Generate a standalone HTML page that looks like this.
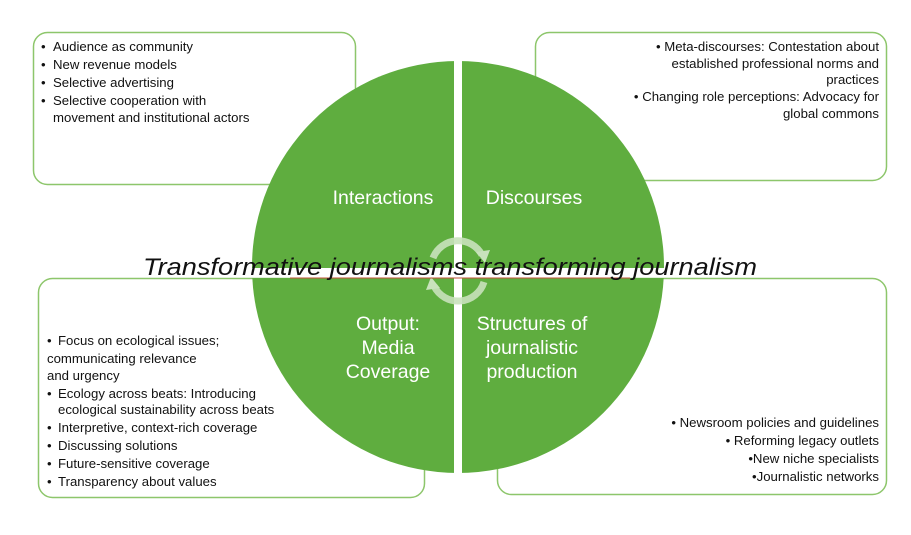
<!DOCTYPE html>
<html><head><meta charset="utf-8"><style>
html,body{margin:0;padding:0;background:#fff;width:911px;height:535px;overflow:hidden}
svg text{font-family:"Liberation Sans",sans-serif}
.t{font-size:13.2px;fill:#111}
.w{font-size:19.5px;fill:#fff}
</style></head><body>
<svg width="911" height="535" viewBox="0 0 911 535" xmlns="http://www.w3.org/2000/svg">
<g fill="#fff" stroke="#8dc66b" stroke-width="1.5">
<rect x="33.5" y="32.5" width="322" height="152" rx="14"/>
<rect x="535.5" y="32.5" width="351" height="148" rx="14"/>
<rect x="38.5" y="278.5" width="386" height="219" rx="14"/>
<rect x="497.5" y="278.5" width="389" height="216" rx="14"/>
</g>
<defs><clipPath id="c"><circle cx="458" cy="267" r="206"/></clipPath></defs>
<g clip-path="url(#c)" fill="#5fad3f">
<rect x="250" y="55" width="204" height="213"/>
<rect x="462" y="55" width="204" height="213"/>
<rect x="250" y="278" width="204" height="205"/>
<rect x="462" y="278" width="204" height="205"/>
</g>
<g fill="none" stroke="#c9e2bc" stroke-width="7" opacity="0.9">
<path d="M433 258 A27 27 0 0 1 482 255"/>
<path d="M484 282 A27 27 0 0 1 434 286"/>
</g>
<polygon points="476,252 490,250 485,263" fill="#c9e2bc"/>
<polygon points="440,288 426,290 431,277" fill="#c9e2bc"/>
<line x1="290" y1="278" x2="630" y2="278" stroke="#c0503a" stroke-width="1"/>
<text x="450" y="275" text-anchor="middle" font-style="italic" font-size="24" fill="#111" textLength="614" lengthAdjust="spacingAndGlyphs">Transformative journalisms transforming journalism</text>
<text class="w" x="383" y="204" text-anchor="middle">Interactions</text>
<text class="w" x="534" y="204" text-anchor="middle">Discourses</text>
<text class="w" x="388" y="330" text-anchor="middle">Output:</text>
<text class="w" x="388" y="354" text-anchor="middle">Media</text>
<text class="w" x="388" y="378" text-anchor="middle">Coverage</text>
<text class="w" x="532" y="330" text-anchor="middle">Structures of</text>
<text class="w" x="532" y="354" text-anchor="middle">journalistic</text>
<text class="w" x="532" y="378" text-anchor="middle">production</text>
<g class="t">
<text x="41" y="51">•</text><text x="53" y="51">Audience as community</text>
<text x="41" y="69">•</text><text x="53" y="69">New revenue models</text>
<text x="41" y="87">•</text><text x="53" y="87">Selective advertising</text>
<text x="41" y="105">•</text><text x="53" y="105">Selective cooperation with</text>
<text x="53" y="122">movement and institutional actors</text>
</g>
<g class="t" text-anchor="end">
<text x="879" y="51">• Meta-discourses: Contestation about</text>
<text x="879" y="68">established professional norms and</text>
<text x="879" y="84">practices</text>
<text x="879" y="101">• Changing role perceptions: Advocacy for</text>
<text x="879" y="118">global commons</text>
<text x="879" y="427">• Newsroom policies and guidelines</text>
<text x="879" y="445">• Reforming legacy outlets</text>
<text x="879" y="463">•New niche specialists</text>
<text x="879" y="481">•Journalistic networks</text>
</g>
<g class="t">
<text x="47" y="345">•</text><text x="58" y="345">Focus on ecological issues;</text>
<text x="47" y="363">communicating relevance</text>
<text x="47" y="380">and urgency</text>
<text x="47" y="398">•</text><text x="58" y="398">Ecology across beats: Introducing</text>
<text x="58" y="414">ecological sustainability across beats</text>
<text x="47" y="432">•</text><text x="58" y="432">Interpretive, context-rich coverage</text>
<text x="47" y="450">•</text><text x="58" y="450">Discussing solutions</text>
<text x="47" y="468">•</text><text x="58" y="468">Future-sensitive coverage</text>
<text x="47" y="486">•</text><text x="58" y="486">Transparency about values</text>
</g>
</svg>
</body></html>
